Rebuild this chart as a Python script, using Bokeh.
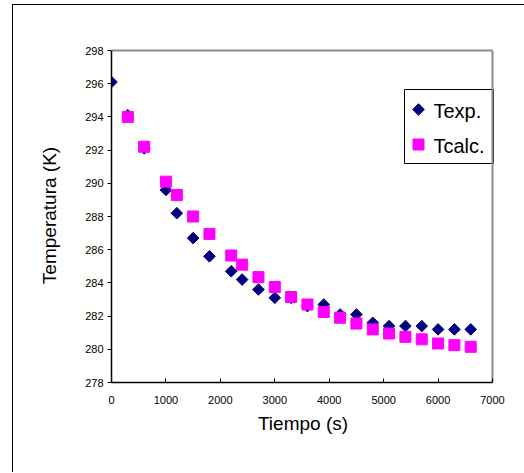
from bokeh.plotting import figure
from bokeh.layouts import column
from bokeh.models import FixedTicker, Range1d, BoxAnnotation
from bokeh.core.properties import value
from bokeh.embed import file_html
from bokeh.resources import INLINE

# Measured temperature (K) over time (s)
t_exp = [0, 300, 600, 1000, 1200, 1500, 1800, 2200, 2400, 2700, 3000, 3300,
         3600, 3900, 4200, 4500, 4800, 5100, 5400, 5700, 6000, 6300, 6600]
T_exp = [296.1, 294.1, 292.1, 289.6, 288.2, 286.7, 285.6, 284.7, 284.2, 283.6,
         283.1, 283.1, 282.6, 282.7, 282.1, 282.1, 281.6, 281.4, 281.4, 281.4,
         281.2, 281.2, 281.2]

# Calculated temperature (K) over time (s)
t_calc = [300, 600, 1000, 1200, 1500, 1800, 2200, 2400, 2700, 3000, 3300,
          3600, 3900, 4200, 4500, 4800, 5100, 5400, 5700, 6000, 6300, 6600]
T_calc = [294.0, 292.2, 290.1, 289.3, 288.0, 286.95, 285.65, 285.1, 284.35,
          283.75, 283.15, 282.7, 282.25, 281.9, 281.55, 281.2, 280.95, 280.75,
          280.6, 280.35, 280.25, 280.15]

x_ticks = [0, 1000, 2000, 3000, 4000, 5000, 6000, 7000]
y_ticks = [278, 280, 282, 284, 286, 288, 290, 292, 294, 296, 298]

FONT = "Liberation Sans"
NAVY = "#000080"
MAGENTA = "#FF00FF"
GRAY = "#8c8c8c"

# page size and offset of the chart's own frame (thin left/top border)
PAGE_W, PAGE_H = 524, 473
OX, OY = 13, 5
W, H = PAGE_W - OX, PAGE_H - OY - 1

# plot area (axis box) edges, page pixels -> canvas pixels
AL, AR, AT, AB = 111 - OX, 492 - OX, 50 - OY, 382 - OY
PAD_R, PAD_T = 2, 2

X0, X1 = x_ticks[0], x_ticks[-1]
Y0, Y1 = y_ticks[0], y_ticks[-1]
sx = (AR - AL) / (X1 - X0)
sy = (AB - AT) / (Y1 - Y0)

p = figure(width=W, height=H, output_backend="svg", toolbar_location=None,
           x_range=Range1d(X0, X1 + PAD_R / sx),
           y_range=Range1d(Y0, Y1 + PAD_T / sy),
           min_border_left=AL, min_border_right=W - AR - PAD_R,
           min_border_top=AT - PAD_T, min_border_bottom=H - AB)
p.background_fill_color = "white"
p.border_fill_color = "white"
p.outline_line_color = None
p.xgrid.visible = False
p.ygrid.visible = False

for ax in (p.xaxis[0], p.yaxis[0]):
    ax.axis_line_color = "black"
    ax.axis_line_width = 1.5
    ax.major_tick_line_color = "black"
    ax.minor_tick_line_color = None
    ax.major_label_text_font = FONT
    ax.major_label_text_font_size = "11px"
    ax.major_label_text_color = "black"
    ax.axis_label_text_font = FONT
    ax.axis_label_text_font_size = "19px"
    ax.axis_label_text_font_style = "normal"
    ax.axis_label_text_color = "black"

p.xaxis.ticker = FixedTicker(ticks=x_ticks)
p.xaxis.bounds = (X0, X1)
p.xaxis.major_tick_in = 4
p.xaxis.major_tick_out = 0
p.xaxis.major_label_standoff = 13
p.xaxis.axis_label = "Tiempo (s)"
p.xaxis.axis_label_standoff = 6

p.yaxis.ticker = FixedTicker(ticks=y_ticks)
p.yaxis.bounds = (Y0, Y1)
p.yaxis.major_tick_in = 0
p.yaxis.major_tick_out = 4
p.yaxis.major_label_standoff = 4
p.yaxis.axis_label = "Temperatura (K)"
p.yaxis.axis_label_standoff = 22

# gray top and right edges of the axis box
p.segment(x0=[X0, X1], y0=[Y1, Y0], x1=[X1, X1], y1=[Y1, Y1],
          line_color=GRAY, line_width=2)

# data series
p.scatter(t_exp, T_exp, marker="square", angle=0.785398, size=8.2,
          fill_color=NAVY, line_color=NAVY)
p.scatter(t_calc, T_calc, marker="square", size=11,
          fill_color=MAGENTA, line_color=MAGENTA)


def px_x(px):
    return X0 + (px - OX - AL) / sx


def px_y(py):
    return Y1 - (py - OY - AT) / sy


# legend box and entries
p.add_layout(BoxAnnotation(left=404 - OX, right=493 - OX, top=89 - OY, bottom=163 - OY,
                           left_units="canvas", right_units="canvas",
                           top_units="canvas", bottom_units="canvas",
                           fill_color="white", fill_alpha=1.0,
                           line_color="black", line_alpha=1.0, line_width=1,
                           level="underlay"))
p.scatter([px_x(418)], [px_y(109)], marker="square", angle=0.785398, size=8.2,
          fill_color=NAVY, line_color=NAVY)
p.scatter([px_x(418)], [px_y(144)], marker="square", size=11,
          fill_color=MAGENTA, line_color=MAGENTA)
p.text([px_x(433), px_x(433)], [px_y(110), px_y(145)], text=["Texp.", "Tcalc."],
       text_font=value(FONT), text_font_size="20px", text_color="black",
       text_baseline="middle", text_align="left")

# thin black frame along the left and top of the whole chart
page = column(p, margin=(OY - 1, 0, 0, OX - 1),
              styles={"border-left": "1px solid #000",
                      "border-top": "1px solid #000",
                      "overflow": "hidden"})

open("out.html", "w").write(file_html(page, INLINE))
